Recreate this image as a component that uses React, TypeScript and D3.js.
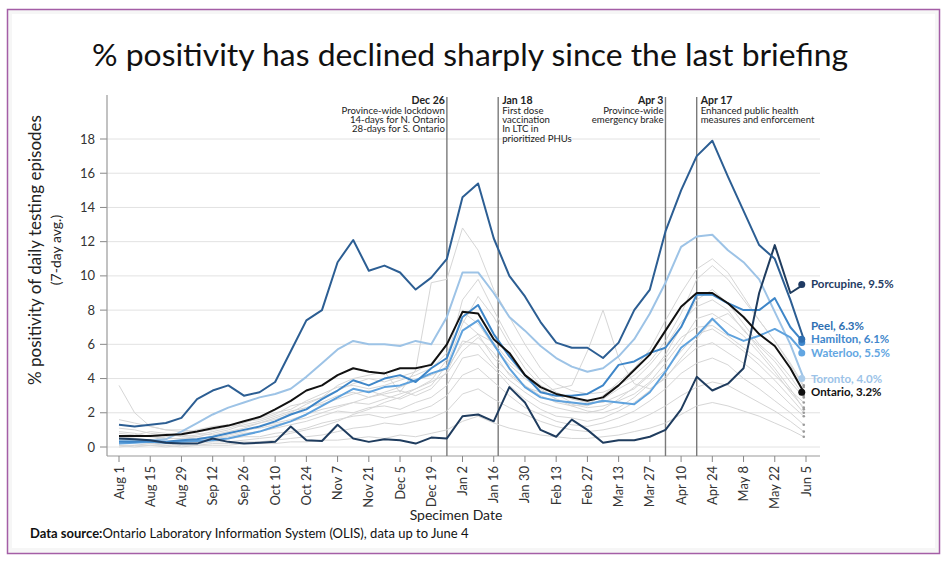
import React from 'react';
import * as d3 from 'd3';

const W = 946;
const H = 563;

const start = new Date(2020, 7, 1);
const end = new Date(2021, 5, 5);
// weekly samples from Aug 1 plus the last day of data (Jun 4)
const sampleDays = d3.range(0, 302, 7).concat([307]);
const sampleDates = sampleDays.map(d => d3.timeDay.offset(start, d));
const tickDates = d3.range(0, 309, 14).map(d => d3.timeDay.offset(start, d));
const yTicks = [0, 2, 4, 6, 8, 10, 12, 14, 16, 18];

const peel = [1.3, 1.2, 1.3, 1.4, 1.7, 2.8, 3.3, 3.6, 3.0, 3.2, 3.8, 5.6, 7.4, 8.0, 10.8, 12.1, 10.3, 10.6, 10.2, 9.2, 9.9, 11.0, 14.6, 15.4, 12.2, 10.0, 8.8, 7.3, 6.1, 5.8, 5.8, 5.2, 6.1, 8.0, 9.2, 12.6, 15.0, 17.0, 17.9, 15.8, 13.8, 11.8, 11.0, 8.6, 6.3];
const porcupine = [0.5, 0.45, 0.4, 0.25, 0.2, 0.2, 0.5, 0.3, 0.2, 0.25, 0.3, 1.2, 0.4, 0.35, 1.3, 0.5, 0.3, 0.45, 0.4, 0.2, 0.55, 0.5, 1.8, 1.9, 1.5, 3.5, 2.6, 1.0, 0.6, 1.6, 1.0, 0.25, 0.4, 0.4, 0.6, 1.0, 2.2, 4.1, 3.3, 3.7, 4.6, 9.0, 11.8, 9.0, 9.5];
const ontario = [0.65, 0.65, 0.65, 0.7, 0.75, 0.9, 1.1, 1.25, 1.5, 1.75, 2.2, 2.7, 3.3, 3.6, 4.2, 4.6, 4.4, 4.3, 4.6, 4.6, 4.8, 6.0, 7.9, 7.8, 6.3, 5.5, 4.2, 3.5, 3.1, 2.9, 2.7, 2.9, 3.6, 4.5, 5.4, 6.8, 8.2, 9.0, 9.0, 8.4, 7.6, 6.6, 5.9, 4.6, 3.2];
const toronto = [0.4, 0.4, 0.4, 0.45, 0.9, 1.4, 1.9, 2.3, 2.6, 2.9, 3.1, 3.4, 4.1, 4.9, 5.7, 6.2, 6.0, 6.0, 5.9, 6.2, 6.0, 7.6, 10.2, 10.2, 9.0, 7.6, 6.8, 5.9, 5.2, 4.7, 4.4, 4.6, 5.3, 6.3, 7.8, 9.6, 11.7, 12.3, 12.4, 11.5, 10.8, 9.8, 7.9, 6.0, 4.0];
const hamilton = [0.3, 0.3, 0.35, 0.3, 0.4, 0.45, 0.6, 0.8, 1.0, 1.2, 1.5, 1.9, 2.2, 2.8, 3.3, 3.9, 3.6, 4.0, 4.2, 3.8, 4.6, 5.2, 7.6, 8.3, 6.6, 5.3, 4.2, 3.2, 3.0, 3.0, 3.1, 3.6, 4.8, 5.0, 5.5, 5.8, 7.0, 8.9, 8.9, 8.4, 8.0, 8.0, 8.7, 7.0, 6.1];
const waterloo = [0.2, 0.25, 0.3, 0.25, 0.3, 0.35, 0.4, 0.5, 0.7, 0.9, 1.2, 1.5, 1.9, 2.4, 2.9, 3.4, 3.2, 3.5, 3.6, 3.9, 4.3, 4.6, 6.8, 7.4, 6.0, 4.6, 3.5, 2.9, 2.7, 2.6, 2.5, 2.7, 2.6, 2.5, 3.2, 4.4, 5.8, 6.5, 7.5, 6.6, 6.2, 6.5, 6.9, 6.4, 5.5];

// the other public health units, drawn in grey
const otherPHUs = [
  [3.6, 2.0, 1.2, 1.0, 0.9, 0.8, 0.7, 0.9, 1.1, 1.4, 1.6, 1.9, 2.3, 2.6, 3.0, 3.2, 2.9, 3.1, 3.3, 3.0, 3.4, 4.4, 6.2, 6.0, 4.8, 3.9, 3.2, 2.6, 2.3, 2.1, 2.0, 2.2, 2.8, 3.5, 4.3, 5.2, 6.4, 7.0, 7.1, 6.5, 5.8, 5.1, 4.2, 3.3, 2.6],
  [1.6, 1.4, 1.2, 1.0, 1.0, 0.9, 1.0, 1.2, 1.5, 1.6, 1.9, 2.4, 2.6, 2.9, 3.6, 4.0, 4.2, 4.4, 3.2, 4.5, 9.6, 9.8, 12.8, 11.5, 9.2, 7.6, 6.0, 4.6, 3.7, 3.3, 3.1, 3.2, 3.6, 4.2, 5.0, 6.2, 7.8, 9.8, 10.6, 9.8, 8.6, 7.4, 6.2, 4.9, 3.6],
  [0.9, 0.8, 0.6, 0.5, 0.5, 0.6, 0.8, 1.0, 1.3, 1.5, 1.8, 2.1, 2.3, 2.5, 2.8, 3.1, 3.3, 3.0, 2.8, 3.2, 3.6, 4.8, 7.2, 8.8, 7.6, 6.0, 4.6, 3.6, 3.1, 2.6, 2.4, 2.8, 3.4, 3.9, 4.8, 5.9, 7.3, 8.2, 8.6, 8.0, 6.8, 5.9, 5.0, 3.8, 2.9],
  [0.4, 0.3, 0.3, 0.3, 0.4, 0.3, 0.5, 0.6, 0.8, 0.9, 1.1, 1.3, 1.5, 1.8, 2.1, 2.0, 2.3, 2.4, 2.2, 2.6, 2.9, 3.6, 5.2, 5.4, 4.6, 3.6, 2.8, 2.2, 1.8, 1.7, 1.5, 1.7, 2.1, 2.6, 3.3, 4.1, 5.0, 5.8, 6.1, 5.5, 4.9, 4.2, 3.4, 2.5, 1.8],
  [0.2, 0.3, 0.2, 0.2, 0.3, 0.4, 0.4, 0.5, 0.6, 0.6, 0.8, 0.9, 1.1, 1.4, 1.6, 1.8, 1.9, 1.7, 1.9, 2.1, 2.4, 3.0, 4.2, 4.6, 3.8, 3.0, 2.3, 1.9, 1.5, 1.3, 1.2, 1.4, 1.7, 2.1, 2.7, 3.4, 4.3, 4.9, 5.2, 4.8, 4.0, 3.4, 2.7, 2.0, 1.3],
  [0.1, 0.1, 0.2, 0.1, 0.2, 0.2, 0.3, 0.3, 0.4, 0.5, 0.6, 0.8, 1.0, 1.2, 1.5, 1.9, 2.2, 2.6, 2.9, 3.4, 3.8, 4.3, 5.6, 6.4, 5.5, 4.2, 3.5, 3.2, 3.4, 3.6, 5.6, 8.0, 5.2, 3.7, 3.4, 4.0, 5.2, 6.3, 7.4, 7.8, 6.9, 5.7, 4.6, 3.4, 2.2],
  [0.6, 0.5, 0.4, 0.6, 0.7, 0.6, 0.5, 0.7, 0.9, 1.2, 1.4, 1.6, 1.9, 2.2, 2.4, 2.6, 2.5, 2.8, 3.1, 3.4, 3.9, 5.1, 8.6, 9.8, 8.0, 6.3, 5.0, 3.9, 3.2, 2.8, 2.6, 2.6, 3.0, 3.4, 4.2, 5.4, 7.0, 8.6, 9.2, 8.4, 7.2, 6.0, 5.2, 4.1, 3.0],
  [0.0, 0.1, 0.1, 0.0, 0.1, 0.1, 0.2, 0.2, 0.3, 0.3, 0.4, 0.5, 0.6, 0.7, 0.9, 1.1, 1.2, 1.4, 1.3, 1.5, 1.7, 2.1, 3.1, 3.4, 2.8, 2.3, 1.9, 1.5, 1.2, 1.0, 0.9, 1.0, 1.2, 1.5, 1.9, 2.4, 3.0, 3.5, 3.8, 3.6, 3.1, 2.6, 2.1, 1.5, 0.9],
  [1.1, 1.0, 0.8, 0.7, 0.8, 1.0, 1.2, 1.3, 1.2, 1.4, 1.7, 2.0, 2.5, 2.9, 3.3, 3.7, 4.0, 3.8, 4.1, 4.4, 4.9, 6.0, 7.9, 7.2, 5.9, 4.8, 4.0, 3.3, 2.8, 2.5, 2.3, 2.4, 2.7, 3.1, 3.8, 4.9, 6.1, 7.5, 7.8, 7.2, 6.5, 5.5, 4.4, 3.2, 2.3],
  [0.1, 0.0, 0.1, 0.1, 0.0, 0.1, 0.1, 0.1, 0.2, 0.2, 0.2, 0.3, 0.3, 0.4, 0.4, 0.5, 0.6, 0.5, 0.7, 0.6, 0.8, 1.0, 1.5, 1.8, 1.4, 1.1, 0.9, 0.7, 0.6, 0.5, 0.5, 0.6, 0.7, 0.9, 1.1, 1.4, 1.9, 2.4, 2.6, 2.4, 2.1, 1.8, 1.4, 1.0, 0.6],
  [0.8, 0.7, 0.9, 0.8, 0.6, 0.7, 0.9, 1.1, 1.4, 1.7, 2.0, 2.2, 2.7, 3.1, 3.5, 3.6, 3.4, 3.6, 3.9, 4.2, 4.6, 5.5, 7.4, 6.6, 5.2, 4.3, 3.6, 3.0, 2.6, 2.4, 2.5, 3.0, 3.8, 4.6, 5.7, 7.4, 9.0, 10.4, 11.0, 10.2, 8.8, 7.4, 6.2, 4.8, 3.5],
  [0.5, 0.6, 0.7, 0.5, 0.5, 0.5, 0.6, 0.8, 1.0, 1.1, 1.3, 1.5, 1.7, 2.0, 2.3, 2.6, 2.9, 3.2, 3.5, 3.9, 4.2, 4.6, 6.0, 6.6, 6.1, 5.0, 4.2, 3.4, 2.8, 2.4, 2.1, 2.0, 2.3, 2.9, 3.7, 4.5, 5.6, 6.6, 6.9, 6.3, 5.6, 4.8, 3.9, 2.9, 2.0],
];

const highlighted = [
  { name: 'Toronto', values: toronto, line: '#9dc3e6', label: '#9cc3e8' },
  { name: 'Waterloo', values: waterloo, line: '#5fa2dd', label: '#62a6e2' },
  { name: 'Hamilton', values: hamilton, line: '#3e86c8', label: '#3f87cc' },
  { name: 'Porcupine', values: porcupine, line: '#1f3c5e', label: '#1f3b63' },
  { name: 'Peel', values: peel, line: '#2c5e93', label: '#2e6fb2' },
  { name: 'Ontario', values: ontario, line: '#111111', label: '#111111' },
];

const events = [
  { date: new Date(2020, 11, 26), title: 'Dec 26', lines: ['Province-wide lockdown', '14-days for N. Ontario', '28-days for S. Ontario'], side: 'left' },
  { date: new Date(2021, 0, 18), title: 'Jan 18', lines: ['First dose', 'vaccination', 'In LTC in', 'prioritized PHUs'], side: 'right' },
  { date: new Date(2021, 3, 3), title: 'Apr 3', lines: ['Province-wide', 'emergency brake'], side: 'left' },
  { date: new Date(2021, 3, 17), title: 'Apr 17', lines: ['Enhanced public health', 'measures and enforcement'], side: 'right' },
];

const FONT = 'Lato, "Open Sans", sans-serif';

export default function App() {
  const left = 107;
  const right = 820;
  const top = 95;
  const bottom = 456;

  const x = d3.scaleTime().domain([start, end]).range([119, 806]);
  const y = d3.scaleLinear().domain([0, 18]).range([447, 139]);
  const line = d3.line<number>()
    .x((_, i) => x(sampleDates[i]))
    .y(v => y(v))
    .curve(d3.curveLinear);
  const fmt = d3.timeFormat('%b %-d');
  const lastDate = sampleDates[sampleDates.length - 1];

  // end labels: keep them apart (push upwards from the lowest)
  const labelY: Record<string, number> = {};
  const order = [...highlighted].sort((a, b) => a.values[a.values.length - 1] - b.values[b.values.length - 1]);
  let prev = Infinity;
  order.forEach(s => {
    let ly = y(s.values[s.values.length - 1]);
    if (ly > prev - 13.5) ly = prev - 13.5;
    labelY[s.name] = ly;
    prev = ly;
  });

  return (
    <svg width={W} height={H} style={{ position: 'absolute', left: 0, top: 0, fontFamily: FONT }}>
      <rect x={0} y={0} width={W} height={H} fill="#fff" />
      <rect x={7.5} y={9.5} width={932} height={544} fill="#f6f6f6" stroke="#a45ea6" strokeWidth={1.5} />
      <rect x={12} y={14} width={923} height={534} fill="#fff" />

      <text x={470} y={66} textAnchor="middle" fontSize={30} fill="#111" textLength={756} lengthAdjust="spacingAndGlyphs">
        % positivity has declined sharply since the last briefing
      </text>

      {/* grid */}
      {yTicks.map(t => (
        <g key={t}>
          <line x1={left} x2={right} y1={y(t)} y2={y(t)} stroke="#e2e2e2" strokeWidth={1} />
          <line x1={left - 7} x2={left} y1={y(t)} y2={y(t)} stroke="#888" />
          <text x={left - 12} y={y(t)} dy="0.35em" textAnchor="end" fontSize={13} fill="#333">{t}</text>
        </g>
      ))}

      {/* axes */}
      <line x1={left} x2={left} y1={top} y2={bottom} stroke="#999" strokeWidth={1.2} />
      <line x1={left} x2={right} y1={bottom} y2={bottom} stroke="#999" strokeWidth={1.2} />
      {tickDates.map((d, i) => (
        <g key={i}>
          <line x1={x(d)} x2={x(d)} y1={bottom} y2={bottom + 6} stroke="#888" />
          <text transform={`translate(${x(d) + 4.5},${bottom + 10}) rotate(-90)`} textAnchor="end" fontSize={13} fill="#333">
            {fmt(d)}
          </text>
        </g>
      ))}

      {/* event markers */}
      {events.map(ev => {
        const ex = x(ev.date);
        const tx = ev.side === 'left' ? ex - 2 : ex + 4;
        const anchor = ev.side === 'left' ? 'end' : 'start';
        return (
          <g key={ev.title}>
            <line x1={ex} x2={ex} y1={top + 2} y2={bottom} stroke="#7a7a7a" strokeWidth={1.4} />
            <text x={tx} y={104} textAnchor={anchor} fontSize={10.5} fontWeight="bold" fill="#222">{ev.title}</text>
            {ev.lines.map((l, i) => (
              <text key={i} x={tx} y={113.5 + i * 9.4} textAnchor={anchor} fontSize={9.6} fill="#222">{l}</text>
            ))}
          </g>
        );
      })}

      {/* other PHUs */}
      {otherPHUs.map((vals, i) => (
        <path key={i} d={line(vals) || ''} fill="none" stroke="#d6d6d6" strokeWidth={1} />
      ))}
      {otherPHUs.map((vals, i) => (
        <circle key={i} cx={x(lastDate)} cy={y(vals[vals.length - 1])} r={1.3} fill="#9a9a9a" />
      ))}

      {/* highlighted PHUs */}
      {highlighted.map(s => (
        <path key={s.name} d={line(s.values) || ''} fill="none" stroke={s.line} strokeWidth={2} strokeLinejoin="round" />
      ))}
      {highlighted.map(s => {
        const v = s.values[s.values.length - 1];
        return (
          <g key={s.name}>
            <circle cx={x(lastDate) - 2} cy={y(v)} r={3.5} fill={s.name === 'Toronto' ? '#a9cbea' : s.label} />
            <text x={811} y={labelY[s.name]} dy="0.35em" fontSize={11.5} fontWeight="bold" fill={s.label}>
              {`${s.name}, ${v.toFixed(1)}%`}
            </text>
          </g>
        );
      })}

      {/* axis titles */}
      <text transform="translate(41,250) rotate(-90)" textAnchor="middle" fontSize={17} fill="#222">
        % positivity of daily testing episodes
      </text>
      <text transform="translate(61,250) rotate(-90)" textAnchor="middle" fontSize={14} fill="#222">
        (7-day avg.)
      </text>
      <text x={456} y={520} textAnchor="middle" fontSize={14} fill="#222">Specimen Date</text>
      <text x={30} y={538} fontSize={13} fill="#111">
        <tspan fontWeight="bold">Data source:</tspan>
        <tspan>Ontario Laboratory Information System (OLIS), data up to June 4</tspan>
      </text>
    </svg>
  );
}
